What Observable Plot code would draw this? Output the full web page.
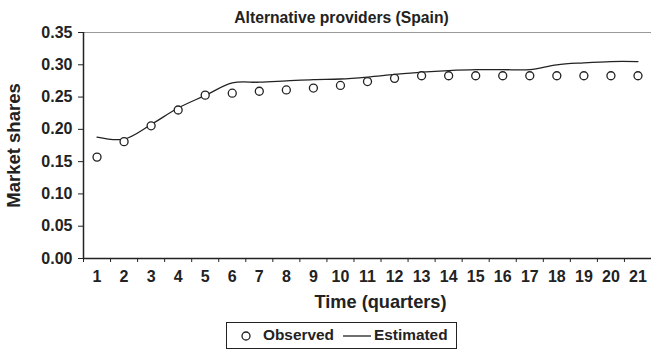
<!DOCTYPE html>
<html>
<head>
<meta charset="utf-8">
<script src="https://cdn.jsdelivr.net/npm/d3@7"></script>
<script src="https://cdn.jsdelivr.net/npm/@observablehq/plot@0.6"></script>
<style>
  html, body { margin: 0; padding: 0; background: #fff; }
  #wrap { position: relative; width: 651px; height: 351px; overflow: hidden; font-family: "Liberation Sans", Arial, sans-serif; color: #222; }
  #chart svg { display: block; }
  #legend { position: absolute; left: 226px; top: 322px; width: 229px; height: 25px; border: 1px solid #222; box-sizing: content-box;
            font-weight: bold; font-size: 15.4px; }
  #legend > * { position: absolute; }
</style>
</head>
<body>
<div id="wrap">
  <div id="chart"></div>
  <div id="legend">
    <svg style="left:13px;top:7px" width="12" height="12"><circle cx="6" cy="6" r="4" fill="white" stroke="#222" stroke-width="1.3"/></svg>
    <span style="left:36px;top:3px">Observed</span>
    <svg style="left:116px;top:8px" width="29" height="10"><line x1="0" y1="5" x2="28" y2="5" stroke="#222" stroke-width="1.3"/></svg>
    <span style="left:147px;top:3px">Estimated</span>
  </div>
</div>
<script>
const quarters = [1,2,3,4,5,6,7,8,9,10,11,12,13,14,15,16,17,18,19,20,21];
const observed = [0.157,0.181,0.2055,0.230,0.253,0.256,0.259,0.261,0.264,0.268,0.274,0.279,0.283,0.283,0.283,0.283,0.283,0.283,0.283,0.283,0.283];
const estimated = [0.188,0.185,0.2075,0.233,0.2525,0.272,0.273,0.275,0.277,0.278,0.281,0.285,0.2885,0.291,0.2925,0.2925,0.2925,0.300,0.303,0.305,0.305];
const yTicks = [0,0.05,0.10,0.15,0.20,0.25,0.30,0.35];
const title = "Alternative providers (Spain)";
const xLabel = "Time (quarters)";
const yLabel = "Market shares";

const obsData = quarters.map((q, i) => ({q, v: observed[i]}));
const estData = quarters.map((q, i) => ({q, v: estimated[i]}));
const boundaries = [0, ...quarters].map(q => q + 0.5);

const ink = "#222";
const plot = Plot.plot({
  width: 651,
  height: 318,
  marginLeft: 83,
  marginRight: 0,
  marginTop: 32,
  marginBottom: 60,
  style: {fontFamily: '"Liberation Sans", Arial, sans-serif', fontWeight: "bold", fontSize: "16px", color: ink, background: "white"},
  x: {domain: [0.5, 21.5]},
  y: {domain: [0, 0.35]},
  marks: [
    Plot.ruleY([0.35], {stroke: "#999", strokeWidth: 1.2}),
    Plot.axisY({ticks: yTicks, tickFormat: d3.format(".2f"), tickSize: 5, tickPadding: 6, stroke: ink, fill: ink, fontSize: 16, fontWeight: "bold",
                label: yLabel, labelAnchor: "center", labelArrow: "none", labelOffset: 77}),
    Plot.axisX({ticks: quarters, tickFormat: d => String(d), tickSize: 0, tickPadding: 12, fill: ink, fontSize: 16, fontWeight: "bold", label: null}),
    Plot.axisX({ticks: boundaries, tickFormat: () => "", tickSize: 4, stroke: ink, label: null}),
    Plot.ruleX([0.5], {y1: 0, y2: 0.35, stroke: ink, strokeWidth: 1.5}),
    Plot.ruleY([0], {stroke: ink, strokeWidth: 1.5}),
    Plot.line(estData, {x: "q", y: "v", stroke: ink, strokeWidth: 1.3, curve: "catmull-rom"}),
    Plot.dot(obsData, {x: "q", y: "v", r: 4, stroke: ink, strokeWidth: 1.3, fill: "white"}),
    Plot.text([title], {frameAnchor: "top", lineAnchor: "top", dx: -26, dy: -21, fontSize: 15.7, fontWeight: "bold", fill: ink}),
    Plot.text([xLabel], {frameAnchor: "bottom", lineAnchor: "top", dx: 13, dy: 37, fontSize: 18.2, fontWeight: "bold", fill: ink})
  ]
});
document.getElementById("chart").appendChild(plot);
const yl = plot.querySelector('g[aria-label="y-axis label"]');
if (yl) { yl.setAttribute("font-size", "18.5"); yl.querySelectorAll("text").forEach(t => t.setAttribute("font-size", "18.5")); }
</script>
</body>
</html>
